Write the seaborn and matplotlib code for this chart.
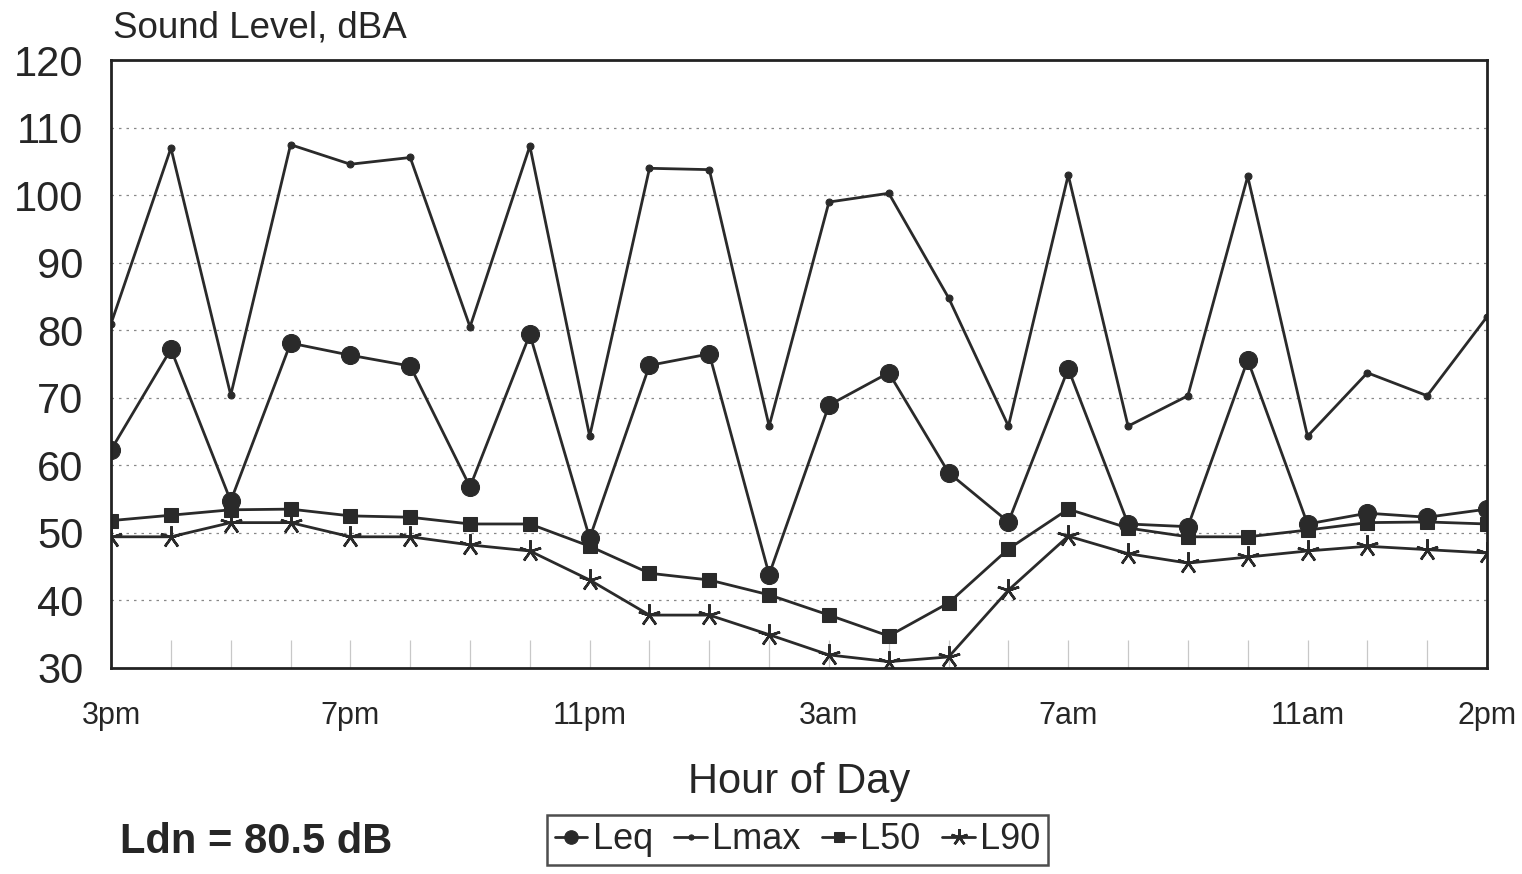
import matplotlib
matplotlib.use("Agg")
import matplotlib.pyplot as plt
import numpy as np
import pandas as pd
import seaborn as sns

# hourly readings, 3pm through 2pm next day
hours = ['3pm', '4pm', '5pm', '6pm', '7pm', '8pm', '9pm', '10pm', '11pm', '12am',
         '1am', '2am', '3am', '4am', '5am', '6am', '7am', '8am', '9am', '10am',
         '11am', '12pm', '1pm', '2pm']
leq = [62.3, 77.2, 54.7, 78.1, 76.3, 74.7, 56.8, 79.4, 49.2, 74.8, 76.5, 43.8,
       68.9, 73.7, 58.9, 51.6, 74.3, 51.3, 50.9, 75.6, 51.3, 52.9, 52.3, 53.5]
lmax = [81.0, 107.0, 70.4, 107.5, 104.6, 105.6, 80.5, 107.3, 64.3, 104.0, 103.8, 65.8,
        99.0, 100.3, 84.8, 65.8, 103.0, 65.8, 70.3, 102.8, 64.3, 73.7, 70.3, 82.0]
l50 = [51.8, 52.6, 53.4, 53.5, 52.5, 52.3, 51.3, 51.3, 48.0, 44.0, 43.0, 40.8,
       37.8, 34.7, 39.6, 47.6, 53.5, 50.7, 49.4, 49.4, 50.4, 51.5, 51.6, 51.3]
l90 = [49.4, 49.4, 51.5, 51.5, 49.4, 49.4, 48.2, 47.3, 43.0, 37.8, 37.8, 34.9,
       31.9, 30.9, 31.6, 41.5, 49.5, 46.9, 45.5, 46.4, 47.3, 48.0, 47.5, 47.0]
series_names = ['Leq', 'Lmax', 'L50', 'L90']
tick_hours = ['3pm', '7pm', '11pm', '3am', '7am', '11am', '2pm']
ldn_text = 'Ldn = 80.5 dB'

sns.set_style("white")
plt.rcParams['font.family'] = ['Liberation Sans', 'DejaVu Sans']

x = np.arange(len(hours))
df = pd.DataFrame({'hour': x, 'Leq': leq, 'Lmax': lmax, 'L50': l50, 'L90': l90})

fig = plt.figure(figsize=(15.22, 8.74), dpi=100)
ax = fig.add_axes([0.073, 0.236, 0.904, 0.695])

ink = '#2a2a2a'
styles = {
    'Leq': dict(marker='o', markersize=13),
    'Lmax': dict(marker='o', markersize=5),
    'L50': dict(marker='s', markersize=10),
    'L90': dict(marker=(5, 2, 0), markersize=16, markeredgewidth=1.8),
}
for name in series_names:
    sns.lineplot(data=df, x='hour', y=name, ax=ax, color=ink, linewidth=2.0,
                 markeredgecolor=ink, label=name, legend=False, **styles[name])

ax.set_xlim(0, len(hours) - 1)
ax.set_ylim(30, 120)
ax.set_yticks(np.arange(30, 121, 10))
ax.tick_params(axis='y', labelsize=30, length=0, pad=20)
ax.set_xticks([hours.index(h) for h in tick_hours])
ax.set_xticklabels(tick_hours)
ax.set_xticks(x, minor=True)
ax.tick_params(axis='x', which='both', bottom=True, direction='in', length=20,
               width=0.9, color='#c8c8c8', labelsize=22, pad=24)
ax.set_xlabel('Hour of Day', fontsize=30, labelpad=22)
ax.set_ylabel('')

for v in range(40, 120, 10):
    ax.axhline(v, color='#888888', linewidth=0.9, linestyle=(0, (2, 4)), zorder=0)

for s in ax.spines.values():
    s.set_visible(True)
    s.set_color('#222222')
    s.set_linewidth(2.0)

fig.text(0.074, 0.968, 'Sound Level, dBA', fontsize=26.5, va='center', ha='left')
fig.text(0.079, 0.037, ldn_text, fontsize=30, fontweight='bold', va='center', ha='left')

handles, labels = ax.get_legend_handles_labels()
leg = fig.legend(handles, labels, loc='center', bbox_to_anchor=(0.524, 0.039), ncol=4,
                 fontsize=26, frameon=True, fancybox=False, handlelength=0.9,
                 handletextpad=0.15, columnspacing=0.6, borderpad=0.2,
                 markerscale=0.75)
leg.get_frame().set_edgecolor('#222222')
leg.get_frame().set_linewidth(1.8)

fig.savefig('out.png', dpi=100)
